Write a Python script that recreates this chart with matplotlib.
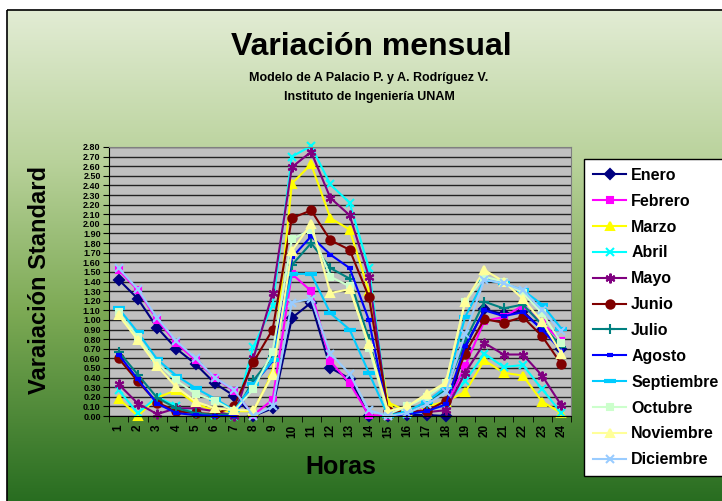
import numpy as np
import matplotlib.pyplot as plt
from matplotlib.patches import Rectangle

plt.rcParams['font.family'] = ['Liberation Sans', 'DejaVu Sans']

horas = list(range(1, 25))

meses = ['Enero', 'Febrero', 'Marzo', 'Abril', 'Mayo', 'Junio', 'Julio',
         'Agosto', 'Septiembre', 'Octubre', 'Noviembre', 'Diciembre']

enero = [1.42, 1.22, 0.92, 0.70, 0.54, 0.34, 0.21, 0.00, 0.08, 1.02, 1.18, 0.50,
         0.39, 0.00, 0.00, 0.01, 0.01, 0.00, 0.71, 1.11, 1.06, 1.09, 0.90, 0.70]
febrero = [1.52, 1.31, 1.00, 0.76, 0.58, 0.40, 0.26, 0.01, 0.17, 1.48, 1.30, 0.57,
           0.34, 0.01, 0.00, 0.02, 0.08, 0.10, 0.52, 0.99, 1.03, 1.15, 0.97, 0.78]
marzo = [0.18, 0.00, 0.19, 0.27, 0.13, 0.05, 0.05, 0.05, 0.45, 2.42, 2.62, 2.06,
         1.94, 1.30, 0.14, 0.05, 0.10, 0.15, 0.25, 0.58, 0.45, 0.42, 0.15, 0.03]
abril = [0.27, 0.03, 0.20, 0.10, 0.03, 0.01, 0.00, 0.72, 1.15, 2.70, 2.81, 2.41,
         2.22, 1.54, 0.02, 0.02, 0.05, 0.12, 0.36, 0.65, 0.51, 0.53, 0.28, 0.03]
mayo = [0.33, 0.13, 0.02, 0.08, 0.08, 0.05, 0.00, 0.60, 1.28, 2.59, 2.75, 2.27,
        2.09, 1.45, 0.02, 0.05, 0.04, 0.06, 0.45, 0.76, 0.64, 0.64, 0.42, 0.11]
junio = [0.60, 0.36, 0.14, 0.05, 0.03, 0.02, 0.10, 0.56, 0.90, 2.06, 2.14, 1.83,
         1.73, 1.24, 0.05, 0.05, 0.05, 0.16, 0.65, 1.01, 0.97, 1.03, 0.83, 0.54]
julio = [0.67, 0.43, 0.19, 0.08, 0.03, 0.01, 0.02, 0.37, 0.62, 1.57, 1.80, 1.54,
         1.43, 0.80, 0.02, 0.03, 0.12, 0.28, 0.78, 1.19, 1.12, 1.16, 0.95, 0.72]
agosto = [0.64, 0.38, 0.13, 0.03, 0.01, 0.00, 0.00, 0.33, 0.57, 1.65, 1.87, 1.68,
          1.54, 1.00, 0.00, 0.02, 0.05, 0.12, 0.73, 1.10, 1.04, 1.08, 0.90, 0.68]
septiembre = [1.12, 0.87, 0.59, 0.42, 0.29, 0.18, 0.06, 0.33, 0.58, 1.48, 1.48, 1.07,
              0.90, 0.45, 0.00, 0.05, 0.15, 0.30, 1.03, 1.42, 1.38, 1.31, 1.16, 0.91]
octubre = [1.08, 0.82, 0.55, 0.37, 0.23, 0.16, 0.05, 0.28, 0.67, 1.84, 1.94, 1.45,
           1.35, 0.71, 0.02, 0.10, 0.20, 0.34, 1.19, 1.45, 1.40, 1.28, 1.07, 0.76]
noviembre = [1.05, 0.79, 0.52, 0.30, 0.15, 0.08, 0.06, 0.06, 0.43, 1.72, 2.00, 1.28,
             1.32, 0.75, 0.05, 0.10, 0.23, 0.35, 1.19, 1.52, 1.40, 1.22, 0.98, 0.65]
diciembre = [1.54, 1.32, 1.02, 0.78, 0.60, 0.40, 0.27, 0.00, 0.10, 1.18, 1.22, 0.65,
             0.44, 0.06, 0.00, 0.03, 0.12, 0.25, 0.85, 1.42, 1.38, 1.31, 1.10, 0.88]

series = [enero, febrero, marzo, abril, mayo, junio, julio,
          agosto, septiembre, octubre, noviembre, diciembre]

# excel 2003 style colours / markers
colores = ['#000080', '#FF00FF', '#FFFF00', '#00FFFF', '#800080', '#800000',
           '#008080', '#0000FF', '#00CCFF', '#CCFFCC', '#FFFF99', '#99CCFF']
marcas = ['D', 's', '^', 'x', (6, 2, 0), 'o', '+', '_', '_', 's', '^', 'x']
tam = [5, 5, 6, 6, 7, 6, 7, 5, 8, 5, 6, 6]

W, H = 722, 501
fig = plt.figure(figsize=(W / 100, H / 100), dpi=100)

# chart area background with vertical gradient
bg = fig.add_axes([0, 0, 1, 1], zorder=0)
bg.set_xlim(0, W)
bg.set_ylim(H, 0)
bg.axis('off')
stops = np.array([[226, 236, 212], [185, 210, 155], [125, 170, 85], [36, 106, 30]]) / 255
pos = np.array([0.0, 0.3, 0.6, 1.0])
t = np.linspace(0, 1, 300)
grad = np.stack([np.interp(t, pos, stops[:, k]) for k in range(3)], axis=1)[:, None, :]
bg.imshow(grad, extent=[7, W + 10, H + 10, 10], aspect='auto', zorder=0)
bg.add_patch(Rectangle((7, 10), W, H, fill=False, edgecolor='black', lw=1.2, zorder=1))

fig.text(371 / W, 1 - 47 / H, 'Variación mensual', ha='center', va='center',
         fontsize=23, fontweight='bold')
fig.text(369 / W, 1 - 78 / H, 'Modelo de A Palacio P. y A. Rodríguez V.',
         ha='center', va='center', fontsize=9, fontweight='bold')
fig.text(369 / W, 1 - 97 / H, 'Instituto de Ingeniería UNAM',
         ha='center', va='center', fontsize=9, fontweight='bold')

ax = fig.add_axes([109 / W, 1 - 416 / H, (571 - 109) / W, (416 - 147) / H], zorder=2)
ax.set_facecolor('#C0C0C0')

for nombre, vals, c, m, s in zip(meses, series, colores, marcas, tam):
    ax.plot(horas, vals, color=c, marker=m, markersize=s, lw=1.5,
            markeredgewidth=1.5 if m != '_' else 3,
            markerfacecolor=c, markeredgecolor=c, label=nombre, clip_on=False)

ax.set_xlim(0.5, 24.5)
ax.set_ylim(0, 2.8)
ax.set_yticks(np.arange(0, 2.81, 0.1))
ax.set_yticklabels(['%.2f' % v for v in np.arange(0, 2.81, 0.1)],
                   fontsize=6.5, fontweight='bold')
ax.yaxis.grid(True, color='#222222', lw=1.0)
ax.set_axisbelow(True)
ax.set_xticks(horas)
ax.set_xticklabels([str(h) for h in horas], rotation=90, fontsize=8.5,
                   fontweight='bold')
ax.tick_params(axis='x', length=0, pad=6)
ax.set_xticks(np.arange(0.5, 25, 1), minor=True)
ax.tick_params(axis='x', which='minor', length=4, direction='out')
ax.tick_params(axis='y', length=4, direction='out', pad=2)
for side in ['top', 'right']:
    ax.spines[side].set_color('#808080')
for side in ['left', 'bottom']:
    ax.spines[side].set_color('black')

fig.text(40 / W, 1 - 280 / H, 'Varaiación Standard', rotation=90, ha='center',
         va='center', fontsize=17, fontweight='bold')
fig.text(341 / W, 1 - 467 / H, 'Horas', ha='center', va='center',
         fontsize=18, fontweight='bold')

leg = ax.legend(loc='upper left', bbox_to_anchor=(584 / W, 1 - 159 / H),
                bbox_transform=fig.transFigure, fontsize=11.5, frameon=True,
                fancybox=False, edgecolor='black', framealpha=1,
                labelspacing=0.68, handlelength=2.1, handletextpad=0.3,
                borderpad=0.55, borderaxespad=0)
for txt in leg.get_texts():
    txt.set_fontweight('bold')

fig.savefig('out.png', dpi=100)
